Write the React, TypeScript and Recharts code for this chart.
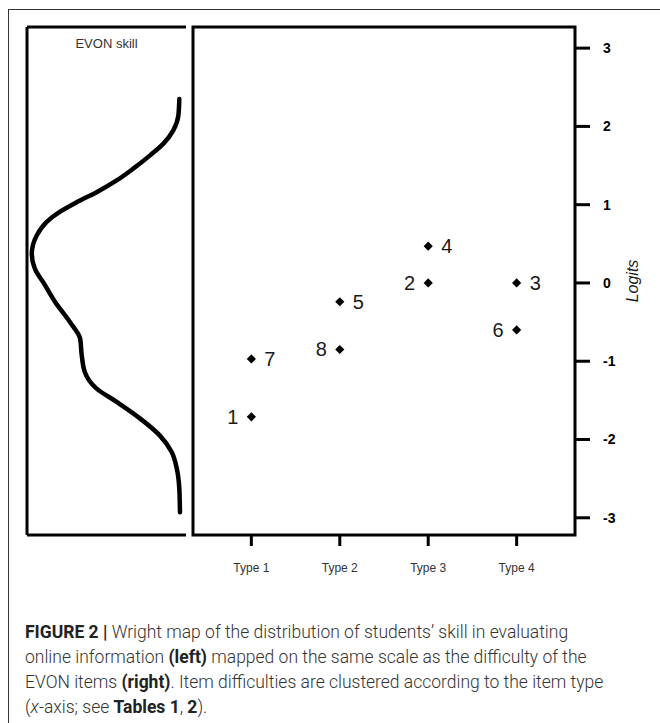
import {
  ReferenceArea,
  ReferenceLine,
  Scatter,
  ScatterChart,
  XAxis,
  YAxis,
} from 'recharts';

// item map (right panel)
const TYPE_TICKS = [1, 2, 3, 4];
const TYPE_LABELS = ['Type 1', 'Type 2', 'Type 3', 'Type 4'];
const LOGIT_TICKS = [-3, -2, -1, 0, 1, 2, 3];
const ITEM_IDS = [1, 2, 3, 4, 5, 6, 7, 8];
const ITEM_TYPES = [1, 3, 4, 3, 2, 4, 1, 2];
const ITEM_LOGITS = [-1.71, 0.0, 0.0, 0.47, -0.24, -0.6, -0.97, -0.85];

// skill distribution (left panel), read top to bottom
const SKILL_LOGITS = [
  2.35, 2.14, 1.95, 1.78, 1.63, 1.46, 1.31, 1.16, 1.03, 0.91, 0.78, 0.61, 0.37, 0.18,
  -0.03, -0.24, -0.5, -0.71, -0.92, -1.14, -1.35, -1.52, -1.73, -1.95, -2.16, -2.37,
  -2.63, -2.93,
];
const SKILL_DENSITY = [
  0.021, 0.024, 0.04, 0.071, 0.113, 0.166, 0.218, 0.281, 0.344, 0.396, 0.438, 0.469,
  0.485, 0.475, 0.443, 0.412, 0.365, 0.333, 0.328, 0.318, 0.281, 0.218, 0.145, 0.082,
  0.045, 0.029, 0.021, 0.019,
];

const LOGIT_DOMAIN: [number, number] = [-3.22, 3.27];
const TYPE_DOMAIN: [number, number] = [0.34, 4.66];
const DENSITY_DOMAIN: [number, number] = [0, 0.5];
const LEFT_LABELED = [1, 2, 6, 8];

const items = ITEM_IDS.map((id, i) => ({ id, type: ITEM_TYPES[i], logit: ITEM_LOGITS[i] }));
const skill = SKILL_LOGITS.map((logit, i) => ({ logit, density: SKILL_DENSITY[i] }));

const bold = { fontWeight: 700, color: '#222' };
const LINE_W = 3;

function ItemMarker(props: any) {
  const { cx, cy, payload } = props;
  const r = 4.6;
  const left = LEFT_LABELED.includes(payload.id);
  return (
    <g>
      <polygon
        points={`${cx},${cy - r} ${cx + r},${cy} ${cx},${cy + r} ${cx - r},${cy}`}
        fill="#000"
      />
      <text
        x={left ? cx - 13 : cx + 13}
        y={cy}
        textAnchor={left ? 'end' : 'start'}
        dominantBaseline="central"
        fontSize={20}
        fill="#1a1a1a"
      >
        {payload.id}
      </text>
    </g>
  );
}

export default function App() {
  return (
    <div
      style={{
        position: 'absolute',
        left: 0,
        top: 0,
        width: 660,
        height: 723,
        background: '#fff',
        fontFamily: '"Liberation Sans", Arial, sans-serif',
      }}
    >
      {/* outer figure frame, only top and left visible */}
      <div
        style={{
          position: 'absolute',
          left: 8,
          top: 9,
          width: 652,
          height: 714,
          borderTop: '1px solid #333',
          borderLeft: '1px solid #333',
        }}
      />

      {/* left panel: skill distribution */}
      <div style={{ position: 'absolute', left: 0, top: 0 }}>
        <ScatterChart width={200} height={600} margin={{ top: 27, right: 14, bottom: 65, left: 27 }}>
          <XAxis type="number" dataKey="density" domain={DENSITY_DOMAIN} reversed hide />
          <YAxis type="number" dataKey="logit" domain={LOGIT_DOMAIN} allowDataOverflow hide />
          {/* three-sided frame: top, left, bottom */}
          <ReferenceLine
            y={LOGIT_DOMAIN[1]}
            stroke="#000"
            strokeWidth={LINE_W}
            label={{ value: 'EVON skill', position: 'bottom', offset: 12, fontSize: 13, fill: '#333' }}
          />
          <ReferenceLine y={LOGIT_DOMAIN[0]} stroke="#000" strokeWidth={LINE_W} />
          <ReferenceLine x={DENSITY_DOMAIN[1]} stroke="#000" strokeWidth={LINE_W} />
          <Scatter
            data={skill}
            line={{ stroke: '#000', strokeWidth: 4.5, strokeLinecap: 'round' }}
            lineJointType="monotoneY"
            shape={() => <g />}
            isAnimationActive={false}
          />
        </ScatterChart>
      </div>

      {/* right panel: item difficulties */}
      <div style={{ position: 'absolute', left: 0, top: 0 }}>
        <ScatterChart width={660} height={600} margin={{ top: 27, right: 0, bottom: 0, left: 193 }}>
          <XAxis
            type="number"
            dataKey="type"
            domain={TYPE_DOMAIN}
            ticks={TYPE_TICKS}
            tickFormatter={(v: number) => TYPE_LABELS[v - 1]}
            height={65}
            tickSize={11}
            tickMargin={17}
            axisLine={false}
            tickLine={{ stroke: '#000', strokeWidth: LINE_W }}
            tick={{ fontSize: 12, fill: '#333' }}
            allowDataOverflow
          />
          <YAxis
            type="number"
            dataKey="logit"
            orientation="right"
            domain={LOGIT_DOMAIN}
            ticks={LOGIT_TICKS}
            width={85}
            tickSize={15}
            tickMargin={13}
            axisLine={false}
            tickLine={{ stroke: '#000', strokeWidth: LINE_W }}
            tick={{ fontSize: 14, fontWeight: 'bold', fill: '#000' }}
            allowDataOverflow
            label={{
              value: 'Logits',
              angle: -90,
              position: 'center',
              dx: 15,
              fontSize: 16,
              fontStyle: 'italic',
              fill: '#1a1a1a',
            }}
          />
          <ReferenceArea
            x1={TYPE_DOMAIN[0]}
            x2={TYPE_DOMAIN[1]}
            y1={LOGIT_DOMAIN[0]}
            y2={LOGIT_DOMAIN[1]}
            fill="none"
            fillOpacity={0}
            stroke="#000"
            strokeWidth={LINE_W}
          />
          <Scatter data={items} shape={ItemMarker} isAnimationActive={false} />
        </ScatterChart>
      </div>

      {/* caption */}
      <div
        style={{
          position: 'absolute',
          left: 25,
          top: 620,
          whiteSpace: 'nowrap',
          fontFamily: 'Roboto, sans-serif',
          fontWeight: 300,
          fontSize: 17.5,
          lineHeight: '25px',
          color: '#333',
        }}
      >
        <b style={bold}>FIGURE 2 |</b> Wright map of the distribution of students’ skill in
        evaluating
        <br />
        online information <b style={bold}>(left)</b> mapped on the same scale as the difficulty
        of the
        <br />
        EVON items <b style={bold}>(right)</b>. Item difficulties are clustered according to the
        item type
        <br />(<i>x</i>-axis; see <b style={bold}>Tables 1</b>, <b style={bold}>2</b>).
      </div>
    </div>
  );
}
